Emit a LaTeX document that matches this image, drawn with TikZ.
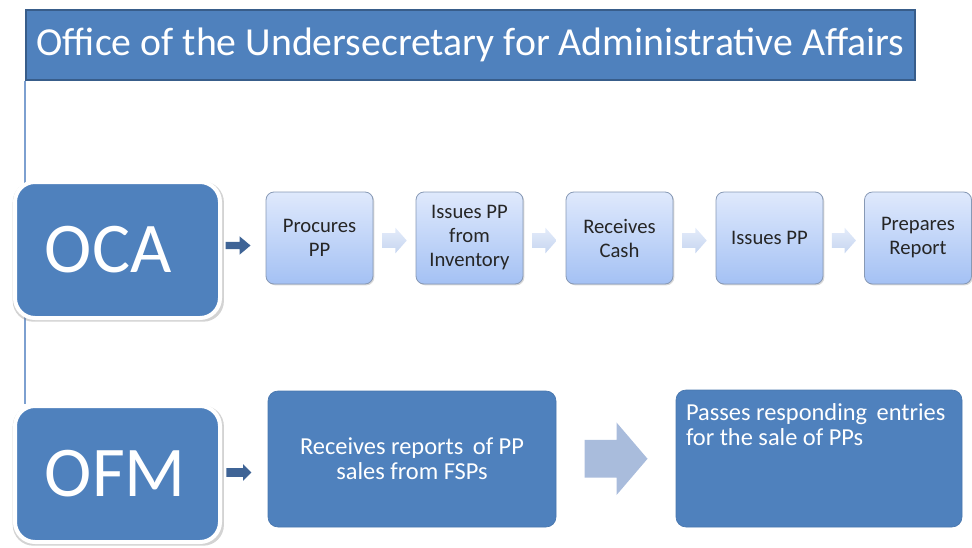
\documentclass[tikz,border=0pt]{standalone}
\usepackage{fontspec}
\setmainfont{Carlito}
\usetikzlibrary{shapes.arrows,shadows,backgrounds,calc}
\definecolor{blueA}{HTML}{4F81BD}
\definecolor{blueBorder}{HTML}{385D8A}
\definecolor{lightTop}{HTML}{DFE9FC}
\definecolor{lightBot}{HTML}{A4C1F4}
\definecolor{lightBorder}{HTML}{8799B5}
\definecolor{chevTop}{HTML}{E4ECFA}
\definecolor{chevBot}{HTML}{C6D5F0}
\definecolor{bigArrow}{HTML}{A9BCDC}
\definecolor{darkArrow}{HTML}{3F6496}
\definecolor{vlineC}{HTML}{7DA0D0}
\begin{document}
\begin{tikzpicture}[x=0.75pt,y=-0.75pt,
  titlebox/.style={fill=blueA, draw=blueBorder, line width=1.5pt,
    minimum width=666.75pt, minimum height=52.5pt, inner sep=0pt,
    text=white, font=\fontsize{29.8}{34}\selectfont,
    drop shadow={opacity=0.25, shadow xshift=1pt, shadow yshift=-1pt}},
  orgbox/.style={fill=blueA, draw=white, line width=3pt, rounded corners=15pt,
    minimum height=102pt, inner xsep=22.5pt, text width=108.75pt, align=left,
    text=white, font=\fontsize{53.5}{60}\selectfont,
    drop shadow={opacity=0.35, shadow scale=1.03, shadow xshift=0.6pt, shadow yshift=-1.2pt}},
  stepbox/.style={draw=lightBorder, line width=0.6pt, rounded corners=6pt,
    top color=lightTop, bottom color=lightBot,
    minimum width=80.25pt, minimum height=69pt, inner sep=2pt, align=center,
    text=black!85, font=\fontsize{15.5}{18}\selectfont,
    drop shadow={opacity=0.3, shadow xshift=1pt, shadow yshift=-1pt}},
  bigbox/.style={fill=blueA, draw=blueA!92!black, line width=0.5pt, rounded corners=7.5pt,
    minimum width=216pt, minimum height=102pt, align=center,
    text=white, font=\fontsize{18.3}{19}\selectfont},
  chev/.style={single arrow, top color=chevTop, bottom color=chevBot, draw=none,
    minimum height=18pt, minimum width=0pt, inner xsep=0pt, inner ysep=5.25pt,
    single arrow head extend=4.125pt, single arrow tip angle=97},
  darkarrow/.style={single arrow, fill=darkArrow, draw=none,
    minimum height=18.75pt, minimum width=0pt, inner xsep=0pt, inner ysep=2.6pt,
    single arrow head extend=4.1pt, single arrow tip angle=80},
  bigarrow/.style={single arrow, fill=bigArrow, draw=none,
    minimum height=47.25pt, minimum width=0pt, inner xsep=0pt, inner ysep=13.875pt,
    single arrow head extend=13.125pt, single arrow tip angle=99},
  vline/.style={draw=vlineC, line width=0.8pt}
]
\useasboundingbox (0,0) rectangle (972,547);

\node[titlebox] (title) at (470.5,45) {Office of the Undersecretary for Administrative Affairs};

\node[orgbox] (oca) at (117.5,250) {OCA};
\node[orgbox] (ofm) at (117.5,474) {OFM};

\node[stepbox] (p1) at (319.5,238) {Procures\\PP};
\node[stepbox] (p2) at (469.5,238) {Issues PP\\from\\Inventory};
\node[stepbox] (p3) at (619.5,238) {Receives\\Cash};
\node[stepbox] (p4) at (769.5,238) {Issues PP};
\node[stepbox] (p5) at (918,238) {Prepares\\Report};

\node[bigbox] (rec) at (412,459) {Receives reports\, of PP\\sales from FSPs};
\node[bigbox, minimum width=214.5pt, minimum height=102.75pt, inner xsep=7.5pt, inner ysep=0pt] (passes) at (819,458.5)
  {\begin{minipage}[c][102.75pt][t]{199.5pt}\raggedright\vspace*{10pt}Passes responding\, entries\\for the sale of PPs\end{minipage}};

\node[darkarrow] (a0) at ($(oca.east)!0.5!(p1.west)+(-8,1.5)$) {};
\node[darkarrow, inner ysep=3pt, single arrow head extend=3pt, single arrow tip angle=90] (b0) at ($(ofm.east)!0.5!(rec.west)+(-8,6)$) {};
\node[chev] (c1) at ($(p1.east)!0.5!(p2.west)+(-3,2.5)$) {};
\node[chev] (c2) at ($(p2.east)!0.5!(p3.west)+(-3,2.5)$) {};
\node[chev] (c3) at ($(p3.east)!0.5!(p4.west)+(-3,2.5)$) {};
\node[chev] (c4) at ($(p4.east)!0.5!(p5.west)+(-3,2.5)$) {};
\node[bigarrow] (big) at ($(rec.east)!0.5!(passes.west)+(-8,0)$) {};

\begin{scope}[on background layer]
\draw[vline] (title.south west) -- (title.south west |- ofm.north);
\end{scope}
\end{tikzpicture}
\end{document}
